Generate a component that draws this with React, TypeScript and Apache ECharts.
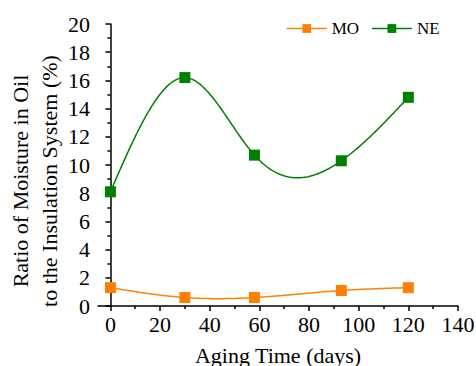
import React, { useEffect, useRef } from "react";
import * as echarts from "echarts";

// Aging time (days) at which oil samples were taken
const agingDays = [0, 30, 58, 93, 120];
// Share of insulation-system moisture held in the oil (%)
const moMoisture = [1.3, 0.6, 0.6, 1.1, 1.3];
const neMoisture = [8.1, 16.2, 10.7, 10.3, 14.8];

const seriesNames = ["MO", "NE"];
const seriesColors = ["#FF8000", "#008000"];

const xMajorTicks = [0, 20, 40, 60, 80, 100, 120, 140];
const xMinorTicks = [10, 30, 50, 70, 90, 110, 130];

const xTitle = "Aging Time (days)";
const yTitle = "Ratio of Moisture in Oil\nto the Insulation System (%)";

const FONT = "Liberation Serif, Times New Roman, serif";

// Natural cubic spline through (xs, ys): returns an evaluator y(x).
function naturalSpline(xs: number[], ys: number[]) {
  const n = xs.length;
  const h: number[] = [];
  for (let i = 0; i < n - 1; i++) h.push(xs[i + 1] - xs[i]);
  const m = new Array(n).fill(0);
  const a = new Array(n).fill(0);
  const b = new Array(n).fill(1);
  const c = new Array(n).fill(0);
  const d = new Array(n).fill(0);
  for (let i = 1; i < n - 1; i++) {
    a[i] = h[i - 1];
    b[i] = 2 * (h[i - 1] + h[i]);
    c[i] = h[i];
    d[i] = 6 * ((ys[i + 1] - ys[i]) / h[i] - (ys[i] - ys[i - 1]) / h[i - 1]);
  }
  // Thomas algorithm, natural ends keep m[0] = m[n-1] = 0
  for (let i = 2; i < n - 1; i++) {
    const w = a[i] / b[i - 1];
    b[i] -= w * c[i - 1];
    d[i] -= w * d[i - 1];
  }
  for (let i = n - 2; i >= 1; i--) {
    m[i] = (d[i] - (i < n - 2 ? c[i] * m[i + 1] : 0)) / b[i];
  }
  return (x: number) => {
    let i = 0;
    while (i < n - 2 && x > xs[i + 1]) i++;
    const t0 = xs[i + 1] - x;
    const t1 = x - xs[i];
    const hi = h[i];
    return (
      (m[i] * t0 * t0 * t0) / (6 * hi) +
      (m[i + 1] * t1 * t1 * t1) / (6 * hi) +
      (ys[i] / hi - (m[i] * hi) / 6) * t0 +
      (ys[i + 1] / hi - (m[i + 1] * hi) / 6) * t1
    );
  };
}

export default function App() {
  const ref = useRef<HTMLDivElement>(null);

  useEffect(() => {
    if (!ref.current) return;
    const chart = echarts.init(ref.current, undefined, { renderer: "svg" });

    const toPairs = (vals: number[]) => agingDays.map((d, i) => [d, vals[i]]);

    const axisLine = { show: true, lineStyle: { color: "#000", width: 1.5 } };

    // spline connector drawn through the axis scales
    const splineSeries = (vals: number[], color: string) => ({
      type: "custom",
      xAxisIndex: 0,
      silent: true,
      data: toPairs(vals),
      encode: { x: 0, y: 1 },
      z: 2,
      renderItem: (params: any, api: any) => {
        if (params.dataIndex !== 0) return null;
        const f = naturalSpline(agingDays, vals);
        const x0 = agingDays[0];
        const x1 = agingDays[agingDays.length - 1];
        const steps = 240;
        const points: number[][] = [];
        for (let k = 0; k <= steps; k++) {
          const x = x0 + ((x1 - x0) * k) / steps;
          points.push(api.coord([x, f(x)]));
        }
        return {
          type: "polyline",
          shape: { points, smooth: 0 },
          style: { stroke: color, lineWidth: 1.5, fill: "none" },
        };
      },
    });

    chart.setOption({
      animation: false,
      backgroundColor: "#fff",
      textStyle: { fontFamily: FONT },
      grid: { left: 98, right: 18, top: 24, bottom: 60, outerBoundsMode: "none", containLabel: false },
      legend: {
        data: seriesNames,
        left: 286,
        top: 20,
        padding: 0,
        itemWidth: 40,
        itemHeight: 11,
        itemGap: 12,
        lineStyle: { width: 1.5, opacity: 1 },
        textStyle: { fontFamily: FONT, fontSize: 17, color: "#000" },
      },
      xAxis: [
        {
          type: "value",
          min: -5,
          max: 140,
          position: "bottom",
          axisLine,
          splitLine: { show: false },
          axisTick: {
            show: true,
            length: 5,
            customValues: xMajorTicks,
            lineStyle: { color: "#000", width: 1.5 },
          },
          axisLabel: {
            customValues: xMajorTicks,
            margin: 7,
            fontFamily: FONT,
            fontSize: 22,
            color: "#000",
          },
          name: xTitle,
          nameLocation: "middle",
          nameGap: 38,
          nameTextStyle: { fontFamily: FONT, fontSize: 22, color: "#000" },
        },
        {
          type: "value",
          min: -5,
          max: 140,
          position: "bottom",
          axisLine: { show: false },
          splitLine: { show: false },
          axisLabel: { show: false },
          axisTick: {
            show: true,
            length: 3,
            customValues: xMinorTicks,
            lineStyle: { color: "#000", width: 1.5 },
          },
        },
      ],
      yAxis: {
        type: "value",
        min: 0,
        max: 20,
        interval: 2,
        axisLine,
        splitLine: { show: false },
        axisTick: { show: true, length: 5, lineStyle: { color: "#000", width: 1.5 } },
        minorTick: { show: true, splitNumber: 2, length: 3, lineStyle: { color: "#000", width: 1.5 } },
        minorSplitLine: { show: false },
        axisLabel: { margin: 8, fontFamily: FONT, fontSize: 22, color: "#000" },
      },
      graphic: [
        {
          type: "text",
          x: 35,
          y: 181,
          rotation: Math.PI / 2,
          style: {
            text: yTitle,
            fontFamily: FONT,
            fontSize: 22,
            lineHeight: 29,
            fill: "#000",
            align: "center",
            verticalAlign: "middle",
            textAlign: "center",
            textVerticalAlign: "middle",
          },
        },
      ],
      series: [
        ...[moMoisture, neMoisture].map((vals, i) => splineSeries(vals, seriesColors[i])),
        ...[moMoisture, neMoisture].map((vals, i) => ({
          name: seriesNames[i],
          type: "line",
          xAxisIndex: 0,
          data: toPairs(vals),
          z: 3,
          symbol: "rect",
          symbolSize: 11,
          lineStyle: { color: seriesColors[i], width: 0, opacity: 0 },
          itemStyle: { color: seriesColors[i] },
        })),
      ],
    });

    return () => chart.dispose();
  }, []);

  return <div ref={ref} style={{ width: 476, height: 366, position: "absolute", left: 0, top: 0 }} />;
}
